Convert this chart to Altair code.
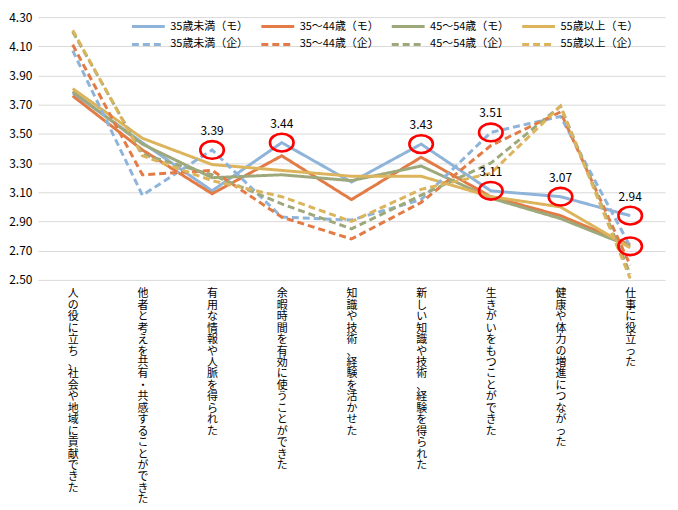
import altair as alt
import pandas as pd

FONT = "Noto Sans CJK JP"

categories = [
    "人の役に立ち、　社会や地域に貢献できた",
    "他者と考えを共有・共感することができた",
    "有用な情報や人脈を得られた",
    "余暇時間を有効に使うことができた",
    "知識や技術、　経験を活かせた",
    "新しい知識や技術、　経験を得られた",
    "生きがいをもつことができた",
    "健康や体力の増進につながった",
    "仕事に役立った",
]

series_names = [
    "35歳未満（モ）", "35～44歳（モ）", "45～54歳（モ）", "55歳以上（モ）",
    "35歳未満（企）", "35～44歳（企）", "45～54歳（企）", "55歳以上（企）",
]

u35_mo = [3.78, 3.44, 3.11, 3.44, 3.17, 3.43, 3.11, 3.07, 2.94]
a35_44_mo = [3.76, 3.39, 3.09, 3.35, 3.05, 3.34, 3.07, 2.94, 2.74]
a45_54_mo = [3.79, 3.43, 3.20, 3.22, 3.18, 3.28, 3.06, 2.92, 2.73]
o55_mo = [3.81, 3.47, 3.29, 3.25, 3.21, 3.21, 3.07, 3.00, 2.72]
u35_ki = [4.07, 3.08, 3.39, 2.93, 2.91, 3.05, 3.51, 3.62, 2.73]
a35_44_ki = [4.11, 3.22, 3.25, 2.93, 2.78, 3.03, 3.42, 3.65, 2.60]
a45_54_ki = [4.20, 3.36, 3.22, 3.02, 2.85, 3.08, 3.30, 3.69, 2.54]
o55_ki = [4.21, 3.35, 3.18, 3.07, 2.90, 3.12, 3.23, 3.69, 2.51]

series_values = [u35_mo, a35_44_mo, a45_54_mo, o55_mo, u35_ki, a35_44_ki, a45_54_ki, o55_ki]

series_colors = ["#8FB4DA", "#E27B45", "#9EA97B", "#DCB45C",
                 "#8FB4DA", "#E27B45", "#9EA97B", "#DCB45C"]
series_dashes = [[1, 0], [1, 0], [1, 0], [1, 0], [7, 4], [7, 4], [7, 4], [7, 4]]
series_widths = [3, 3, 3, 4, 2.8, 2.8, 2.8, 2.8]

circle_cat_idx = [2, 3, 5, 6, 6, 7, 8, 8]
circle_values = [3.39, 3.44, 3.43, 3.51, 3.11, 3.07, 2.94, 2.73]
label_cat_idx = [2, 3, 5, 6, 6, 7, 8]
label_values = [3.39, 3.44, 3.43, 3.51, 3.11, 3.07, 2.94]

y_ticks = [2.5, 2.7, 2.9, 3.1, 3.3, 3.5, 3.7, 3.9, 4.1, 4.3]

rows = []
for s, vals in zip(series_names, series_values):
    for c, v in zip(categories, vals):
        rows.append({"cat": c, "series": s, "value": v})
df = pd.DataFrame(rows)

circ_df = pd.DataFrame({"cat": [categories[i] for i in circle_cat_idx], "value": circle_values})
lab_df = pd.DataFrame({"cat": [categories[i] for i in label_cat_idx], "value": label_values,
                       "text": [f"{v:.2f}" for v in label_values]})

x_enc = alt.X(
    "cat:O", sort=categories, title=None,
    scale=alt.Scale(type="point", padding=0.5),
    axis=alt.Axis(labelAngle=0, labelExpr="split(datum.label, '')", labelFontSize=11,
                  labelLineHeight=11.5, labelBaseline="top", labelAlign="center",
                  labelPadding=8, ticks=False, domain=False, labelFont=FONT,
                  labelColor="#000000", labelLimit=0, grid=False),
)
y_enc = alt.Y(
    "value:Q", title=None,
    scale=alt.Scale(domain=[2.5, 4.3], nice=False, zero=False),
    axis=alt.Axis(values=y_ticks, format=".2f", labelFontSize=12, labelFont=FONT,
                  labelColor="#000000", ticks=False, domain=False, grid=True,
                  gridColor="#D9D9D9", gridWidth=1, labelPadding=6),
)

lines = alt.Chart(df).mark_line().encode(
    x=x_enc, y=y_enc,
    color=alt.Color("series:N", scale=alt.Scale(domain=series_names, range=series_colors),
                    legend=alt.Legend(title=None)),
    strokeDash=alt.StrokeDash("series:N", scale=alt.Scale(domain=series_names, range=series_dashes),
                              legend=alt.Legend(title=None)),
    strokeWidth=alt.StrokeWidth("series:N", scale=alt.Scale(domain=series_names, range=series_widths),
                                legend=None),
)

ellipse = "M-1,0A1,0.75,0,1,1,1,0A1,0.75,0,1,1,-1,0Z"
circles = alt.Chart(circ_df).mark_point(
    shape=ellipse, size=560, filled=False, color="#FF0000", strokeWidth=2.6, opacity=1
).encode(x=x_enc, y=y_enc)

labels = alt.Chart(lab_df).mark_text(
    dy=-19, fontSize=12, font=FONT, color="#000000"
).encode(x=x_enc, y=y_enc, text="text:N")

chart = alt.layer(lines, circles, labels).properties(
    width=630, height=264, padding={"left": 0, "top": 2, "right": 5, "bottom": 0}
).configure_view(strokeWidth=0).configure_legend(
    orient="none", legendX=93, legendY=3, direction="horizontal", columns=4,
    symbolType="stroke", symbolSize=1089, symbolStrokeWidth=3, labelFontSize=11,
    labelFont=FONT, labelColor="#000000", labelOffset=4, columnPadding=11,
    rowPadding=5, padding=0, clipHeight=13,
)

chart.save("out.html", embed_options={"renderer": "svg", "actions": False})
